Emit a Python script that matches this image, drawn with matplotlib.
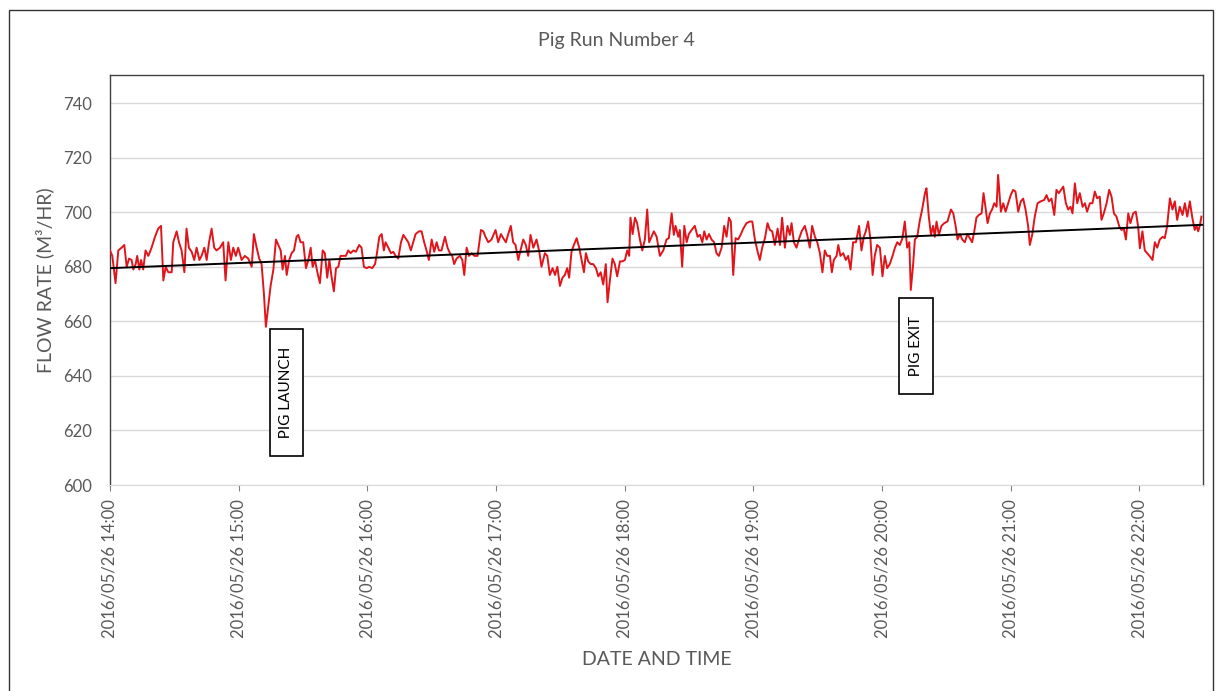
import matplotlib
matplotlib.use("Agg")
import matplotlib.pyplot as plt
import matplotlib.dates as mdates
from matplotlib.patches import Rectangle
import numpy as np
import pandas as pd

plt.rcParams['font.family'] = ['Lato', 'DejaVu Sans']

start = pd.Timestamp("2016-05-26 14:00")
end_minute = 509.6

# minutes after 14:00 and flow rate (m3/hr) in segments
min_a = [0.0, 1.1, 2.6, 3.9, 5.4, 6.7, 7.8, 8.9, 10.1, 10.9, 12.0, 12.7, 13.7, 14.5, 15.5,
         16.6, 17.9, 19.4, 21.0, 22.5, 23.8, 24.9, 26.0, 27.2, 28.8, 29.5, 31.1, 32.2, 33.4,
         34.7, 35.7, 36.8, 38.1, 39.3, 40.4, 41.7, 42.7, 44.0, 45.1, 46.2, 47.4, 48.6, 49.7,
         51.3, 52.8, 53.9, 55.2, 56.4, 57.5, 58.7, 59.8, 61.4, 62.9]
flow_a = [686, 684, 674, 686, 687, 688, 680, 683, 682.5, 679, 681, 684, 679, 682.5, 679,
          686, 684, 687, 691, 694, 695, 675, 680, 678, 678, 689, 693, 689, 686,
          678, 694, 687, 685.5, 682.5, 687, 682.5, 684, 687, 682.5, 689, 694, 687, 686,
          687, 689, 675, 689, 682.5, 687, 684, 687, 682.5, 684]

min_b = [64.5, 66.1, 67.1, 68.4, 69.6, 70.7, 71.8, 72.7, 73.8, 74.9, 76.2, 77.4, 78.5, 79.6,
         80.5, 81.6, 82.4, 83.6, 84.7, 85.8, 87.0, 87.8, 88.9, 90.1, 91.4, 92.5, 93.6, 94.5,
         95.6, 96.7, 97.9, 99.2, 100.2, 101.3, 102.3, 103.3, 104.4, 105.4, 106.5, 107.5,
         108.8, 110.0, 111.1, 112.2, 113.5, 114.7, 116.2, 117.3, 118.4, 119.7, 120.9, 122.3,
         123.6, 124.3, 125.6, 126.7, 127.7]
flow_b = [683, 680, 692, 687, 683, 681, 670, 658, 665.5, 673, 679, 690, 688, 686,
          679, 684, 677, 682.5, 685, 686, 691, 691.7, 689, 689, 679.5, 682.5, 687, 680,
          682.5, 678, 674, 686, 685, 676, 682.5, 676.5, 671, 679.5, 680, 684,
          684, 684, 686, 685, 686, 685.5, 688, 687, 680, 679.5, 680, 679.5,
          681, 684, 691, 692, 686]

min_c = [128.5, 129.8, 131.0, 132.1, 133.2, 134.4, 135.7, 136.8, 137.8, 139.1, 140.3, 141.4,
         142.5, 144.1, 145.3, 146.5, 147.6, 148.7, 150.0, 151.2, 152.3, 153.4, 154.6, 156.2,
         157.4, 158.5, 159.6, 160.5, 161.6, 163.2, 164.3, 165.2, 166.3, 167.4, 168.6, 169.9,
         171.4, 173.0, 174.1, 175.1, 176.4, 177.9, 179.8, 181.0, 182.3, 183.4, 184.6, 185.7,
         186.9, 188.0, 189.1, 190.4]
flow_c = [689, 687, 685, 685.5, 684, 683, 689, 691.7, 690.5, 689, 686, 689,
          692, 693, 693, 689, 686, 682.5, 690, 685.5, 689, 686, 686, 691,
          687, 685, 684, 681, 683, 684, 682.5, 677, 687, 684, 685, 684,
          684, 693.5, 693, 691, 689, 690, 693.5, 689, 692, 690.5, 689, 692,
          695, 689, 688, 682.5]

min_d = [191.1, 192.7, 193.9, 195.0, 196.1, 197.4, 198.9, 200.2, 201.2, 202.8, 203.9, 205.1,
         206.4, 207.5, 208.6, 209.8, 211.0, 212.1, 213.2, 214.1, 215.2, 216.3, 217.6, 218.8,
         219.9, 221.0, 221.9, 223.0, 224.1, 225.3, 226.6, 227.7, 228.8, 230.0, 231.2, 232.0,
         233.1, 234.3, 235.4, 236.5, 237.8, 239.0, 240.1, 241.2, 242.1, 242.7, 243.7, 244.8,
         245.8, 247.1, 248.2, 249.4, 250.5, 251.4, 252.5, 253.6]
flow_d = [685, 690, 688, 684, 691.7, 687, 690, 685.5, 680, 685, 684, 677,
          679.5, 677, 680, 673, 676, 677, 679.5, 676, 685.5, 688, 690.5, 687,
          682.5, 678, 685, 682, 681, 681, 679.5, 676.5, 678, 673.5, 681, 667,
          675, 683, 681, 676.5, 682, 682, 682.5, 686, 684, 698, 692, 698,
          696, 690, 686, 690, 701, 689, 691, 693]

min_e = [254.9, 256.4, 258.0, 259.5, 260.6, 261.9, 262.9, 263.7, 265.0, 265.7, 266.8, 267.8,
         268.9, 269.9, 271.2, 272.7, 274.0, 275.1, 276.2, 277.1, 278.2, 279.3, 280.5, 281.7,
         282.8, 283.9, 285.2, 286.4, 287.5, 288.6, 289.5, 290.6, 291.7, 292.9, 294.2, 295.3,
         296.8, 298.4, 299.5, 300.7, 302.0, 303.0, 304.1, 305.4, 306.6, 307.7, 308.8, 310.0,
         311.3, 312.4, 313.4, 314.7, 315.9, 317.0]
flow_e = [691, 684, 686, 690, 690.5, 699.6, 691.7, 695, 691, 693.5, 680, 695,
          689, 692, 693.5, 695, 691, 691.7, 689, 693, 690, 692, 690, 689,
          685, 684, 687, 695, 691, 698, 696.6, 677, 690.5, 690, 692, 694,
          696, 696.6, 696.6, 690, 685.5, 682.5, 687, 690.5, 696, 693.5, 693, 688,
          694, 688, 698, 687, 695, 691.7]

min_f = [317.8, 318.9, 320.1, 321.4, 322.5, 324.0, 325.1, 326.3, 327.4, 328.7, 329.8, 331.0,
         332.2, 333.3, 334.4, 335.7, 336.6, 337.5, 338.8, 339.6, 340.6, 341.9, 343.1, 344.2,
         345.3, 346.5, 347.8, 349.3, 350.4, 351.5, 352.4, 353.5, 354.6, 355.6, 356.6, 357.7,
         359.0, 360.2, 361.3, 362.4, 363.6, 364.9, 366.0, 367.1, 368.3, 369.5, 370.6, 371.7,
         372.7, 373.4, 374.5, 375.3, 376.4]
flow_f = [696, 689, 687, 690.5, 693, 695, 691.7, 687, 695, 691, 689, 685,
          678, 686, 684, 684, 678, 682.5, 684, 688, 684, 685, 682.5, 684,
          679, 689, 689, 695, 686, 691, 693, 696.6, 690, 677, 684, 688,
          687, 676.5, 684, 679.5, 681, 684, 687, 689, 688, 690.5, 696.6, 687,
          689, 671.5, 681, 690, 691]

min_g = [377.6, 378.7, 380.0, 380.7, 381.8, 382.8, 383.8, 384.6, 385.4, 386.5, 387.7, 389.0,
         390.5, 392.1, 393.2, 394.3, 395.2, 396.3, 397.4, 398.6, 399.8, 400.9, 402.0, 403.0,
         404.0, 405.1, 406.4, 407.3, 408.2, 409.2, 410.3, 411.3, 412.3, 413.4, 414.1, 415.4,
         416.5, 417.6, 418.8, 420.0, 421.1, 422.2, 423.5, 424.7, 425.8, 426.9, 428.1, 428.9,
         430.0, 431.2, 432.5, 434.0, 435.6, 436.7, 437.8, 439.0, 440.3, 441.3, 442.4]
flow_g = [697, 701, 707, 708.8, 698.4, 691.7, 695, 691, 696.6, 691.7, 695, 696,
          696.6, 701, 699.6, 695, 690, 692, 690, 689, 692, 690.5, 689, 693,
          698, 699, 699.6, 707, 702, 696, 699.6, 701, 703.3, 702, 713.7, 700.2,
          703.3, 700.2, 703.3, 706.3, 708.2, 707.6, 700.2, 704, 705, 701, 695, 688,
          691.7, 698.4, 703.3, 704, 704.5, 706.3, 704, 705, 699, 708.2, 707]

min_h = [444.5, 445.7, 446.8, 447.9, 448.8, 449.9, 451.0, 452.2, 453.5, 454.6, 455.6, 456.9,
         458.1, 459.2, 460.3, 461.5, 462.3, 463.4, 464.7, 465.9, 467.0, 468.1, 469.3, 470.6,
         471.6, 472.7, 473.7, 474.8, 475.8, 477.1, 478.3, 479.4, 480.2, 481.4, 482.5, 483.6,
         484.9, 486.1, 487.2, 488.3, 489.5, 490.8, 491.8, 492.9, 494.2, 495.4, 496.5, 497.6,
         498.8, 500.1, 501.2, 502.3, 503.5, 504.7, 505.8, 506.6, 507.4, 508.2, 508.9]
flow_h = [709.4, 703.3, 701, 702, 699.6, 710.6, 703.3, 707, 702, 703.3, 700.2, 703.3,
          703.3, 707.6, 705.1, 705.7, 697.2, 699.6, 703.3, 708.2, 705.7, 699.6, 698.4, 694.8,
          693.5, 694, 690, 699.6, 696, 699.6, 700.2, 694.8, 686.8, 693, 686, 685,
          683.8, 682.5, 689, 687, 690, 691, 690.5, 694.8, 705.1, 701, 704, 697.2,
          702, 699, 703.3, 698.4, 704, 697.8, 693.5, 695.2, 693, 695.2, 698.4]

minutes = np.array(min_a + min_b + min_c + min_d + min_e + min_f + min_g + min_h)
flow = np.array(flow_a + flow_b + flow_c + flow_d + flow_e + flow_f + flow_g + flow_h)

# linear trendline as shown on the chart (value at start and at end of the axis)
trend_vals = [679.5, 695.4]

# annotation positions (minutes after 14:00, flow)
launch_at = (82.3, 634)
exit_at = (376.0, 651)

times = start + pd.to_timedelta(minutes, unit="min")
end_time = start + pd.to_timedelta(end_minute, unit="min")

grey = "#595959"

fig = plt.figure(figsize=(12.19, 6.91), dpi=100)
ax = fig.add_axes([0.0902, 0.2981, 0.8966, 0.5933])

ax.plot(times, flow, color="#e0151b", lw=1.4, zorder=3)
ax.plot([start, end_time], trend_vals, color="black", lw=1.4, zorder=4)

ax.set_ylim(600, 750.3)
ax.set_yticks(np.arange(600, 741, 20))
ax.set_xlim(start, end_time)
ax.xaxis.set_major_locator(mdates.HourLocator())
ax.xaxis.set_major_formatter(mdates.DateFormatter("%Y/%m/%d %H:%M"))
ax.grid(axis="y", color="#d9d9d9", lw=1)
ax.set_axisbelow(True)

ax.tick_params(axis="y", length=0, pad=13, labelsize=12, labelcolor=grey)
ax.tick_params(axis="x", length=4, width=0.8, color="#808080", pad=6,
               labelsize=12, labelcolor=grey, labelrotation=90)

for side in ["left", "top", "right"]:
    ax.spines[side].set_color("#404040")
    ax.spines[side].set_linewidth(1)
ax.spines["bottom"].set_color("#d9d9d9")

for label, (m, v) in [("PIG LAUNCH", launch_at), ("PIG EXIT", exit_at)]:
    ax.text(start + pd.Timedelta(minutes=m), v, "  " + label + "  ", rotation=90,
            ha="center", va="center", fontsize=11, color="black", zorder=5,
            bbox=dict(boxstyle="square,pad=0.65", fc="white", ec="black", lw=1.2))

fig.text(0.506, 0.942, "Pig Run Number 4", ha="center", va="center",
         fontsize=14, color=grey)
fig.text(0.037, 0.595, "FLOW RATE (M³/HR)", ha="center", va="center",
         rotation=90, fontsize=14, color=grey)
fig.text(0.539, 0.045, "DATE AND TIME", ha="center", va="center",
         fontsize=14, color=grey)

fig.patches.append(Rectangle((0.0074, -0.01), 0.9877, 0.9955, transform=fig.transFigure,
                             fill=False, ec="#333333", lw=1))

fig.savefig("out.png", dpi=100)
